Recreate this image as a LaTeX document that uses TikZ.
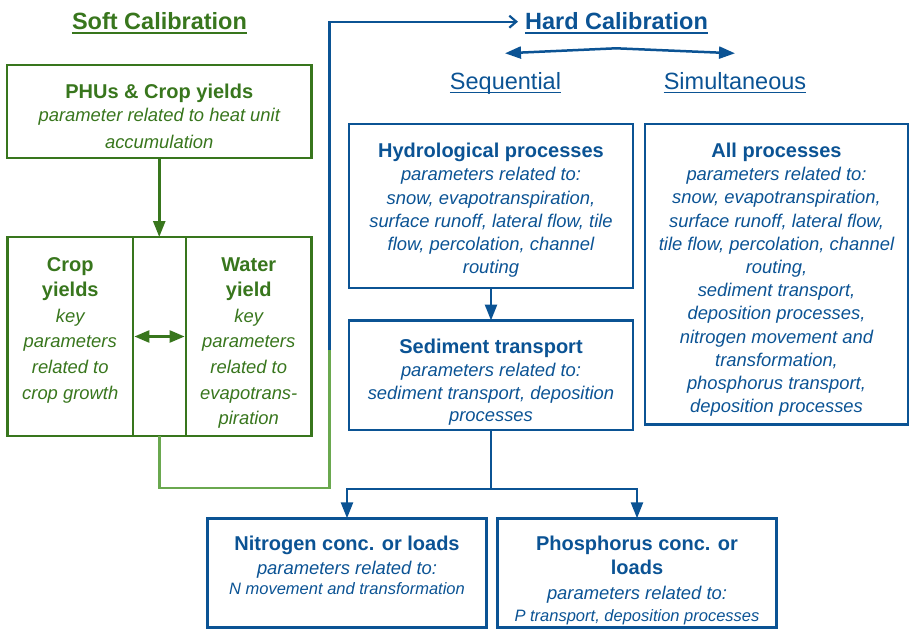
\documentclass[tikz,border=0pt]{standalone}
\usepackage{fontspec}
\setmainfont{Liberation Sans}
\usetikzlibrary{arrows.meta}
\definecolor{gdark}{HTML}{38761D}
\definecolor{glight}{HTML}{6AA84F}
\definecolor{bdark}{HTML}{0B5394}
\newcommand\boxtitle[1]{{\fontsize{20pt}{23.3pt}\selectfont\bfseries\upshape\rule{0pt}{15pt}#1}}
\newcommand\smallit[1]{{\fontsize{16.5pt}{20pt}\selectfont #1}}
\tikzset{
  gbox/.style={draw=gdark, line width=2.8pt, inner sep=0pt, outer sep=0pt},
  bbox/.style={draw=bdark, line width=2.5pt, inner sep=0pt, outer sep=0pt},
  gtext/.style={text=gdark, inner sep=0pt, align=center, anchor=north},
  btext/.style={text=bdark, inner sep=0pt, align=center, anchor=north},
  headtxt/.style={inner sep=0pt, anchor=base, font=\fontsize{23.5pt}{28pt}\selectfont\bfseries},
  subtxt/.style={inner sep=0pt, anchor=base, text=bdark, font=\fontsize{23.5pt}{28pt}\selectfont},
  uline/.style={line width=1.6pt},
  gconn/.style={draw=gdark, line width=2.5pt},
  bconn/.style={draw=bdark, line width=2.5pt},
  tri/.style={-{Triangle[length=16pt,width=12pt]}},
  dtri/.style={{Triangle[length=15pt,width=12pt]}-{Triangle[length=15pt,width=12pt]}},
}
\begin{document}
\begin{tikzpicture}[x=1pt,y=-1pt]
\useasboundingbox (0,0) rectangle (912,634);

% ---------- titles ----------
\node[headtxt, text=gdark] (soft) at (159.5,29.3) {Soft Calibration};
\draw[uline, gdark] ([yshift=-3.5pt]soft.base west) -- ([yshift=-3.5pt]soft.base east);
\node[headtxt, text=bdark] (hard) at (616.5,29.3) {Hard Calibration};
\draw[uline, bdark] ([yshift=-3.5pt]hard.base west) -- ([yshift=-3.5pt]hard.base east);
\node[subtxt] (seq) at (505.5,89) {Sequential};
\draw[uline, bdark] ([yshift=-3.5pt]seq.base west) -- ([yshift=-3.5pt]seq.base east);
\node[subtxt] (simul) at (735,89) {Simultaneous};
\draw[uline, bdark] ([yshift=-3.5pt]simul.base west) -- ([yshift=-3.5pt]simul.base east);

% ---------- boxes ----------
\node[gbox, minimum width=304.5pt, minimum height=93pt] (phu) at (159.25,111.5) {};
\node[gbox, minimum width=125.5pt, minimum height=199pt] (crop) at (70.25,336.5) {};
\node[gbox, minimum width=53pt, minimum height=199pt] (mid) at (159.5,336.5) {};
\node[gbox, minimum width=125.5pt, minimum height=199pt] (water) at (248.75,336.5) {};
\node[bbox, minimum width=284pt, minimum height=164pt] (hydro) at (491,206) {};
\node[bbox, minimum width=284pt, minimum height=109.5pt] (sed) at (491,375.25) {};
\node[bbox, minimum width=263pt, minimum height=300.3pt] (all) at (776.5,274.15) {};
\node[bbox, minimum width=279.4pt, minimum height=109.4pt] (nit) at (347,573) {};
\node[bbox, minimum width=279.4pt, minimum height=109.4pt] (phos) at (637,573) {};

% ---------- texts ----------
\node[gtext, font=\fontsize{18.4pt}{23.3pt}\selectfont\itshape] (phuT) at (159.25,83.2)
  {\boxtitle{PHUs \& Crop yields}\\parameter related to heat unit\\[3.4pt]accumulation};
\node[gtext, font=\fontsize{18.4pt}{25.6pt}\selectfont\itshape] (cropT) at (70.25,255.8)
  {\boxtitle{Crop}\\\boxtitle{yields}\\key\\parameters\\related to\\crop growth};
\node[gtext, font=\fontsize{18.4pt}{25.6pt}\selectfont\itshape] (waterT) at (248.75,255.8)
  {\boxtitle{Water}\\\boxtitle{yield}\\key\\parameters\\related to\\evapotrans-\\piration};
\node[btext, font=\fontsize{18.4pt}{23.3pt}\selectfont\itshape] (hydroT) at (491,142.2)
  {\boxtitle{Hydrological processes}\\parameters related to:\\snow, evapotranspiration,\\surface runoff, lateral flow, tile\\flow, percolation, channel\\routing};
\node[btext, font=\fontsize{18.4pt}{23.2pt}\selectfont\itshape] (allT) at (776.5,142.2)
  {\boxtitle{All processes}\\parameters related to:\\snow, evapotranspiration,\\surface runoff, lateral flow,\\tile flow, percolation, channel\\routing,\\sediment transport,\\deposition processes,\\nitrogen movement and\\transformation,\\phosphorus transport,\\deposition processes};
\node[btext, font=\fontsize{18.4pt}{22.8pt}\selectfont\itshape] (sedT) at (491,338.2)
  {\boxtitle{Sediment transport}\\parameters related to:\\sediment transport, deposition\\processes};
\node[btext, font=\fontsize{18.4pt}{23.3pt}\selectfont\itshape] (nitT) at (347,535.5)
  {\boxtitle{Nitrogen conc. or loads}\\parameters related to:\\[-2.7pt]\smallit{N movement and transformation}};
\node[btext, font=\fontsize{18.4pt}{23.3pt}\selectfont\itshape] (phosT) at (637,535.5)
  {\boxtitle{Phosphorus conc. or}\\\boxtitle{loads}\\[2.3pt]parameters related to:\\[-1.6pt]\smallit{P transport, deposition processes}};

% ---------- connectors ----------
\draw[gconn, tri] (phu.south) -- (phu.south |- mid.north);
\draw[gconn, dtri, shorten <=1.4pt, shorten >=1.4pt] (mid.west) -- (mid.east);

\coordinate (gB) at (329.5,488);
\coordinate (gC) at (329.5,350);
\coordinate (gE) at (518,21.7);
\draw[glight, line width=2.2pt] (mid.south) |- (gB) -- (gC);
\draw[bdark, line width=2.2pt, -{Straight Barb[length=7pt,width=12pt]}] (gC) |- (gE);

\coordinate (hv) at (616,48.3);
\coordinate (seqTip) at (505,53.3);
\coordinate (simTip) at (735,53.3);
\draw[bconn, tri] (hv) -- (seqTip);
\draw[bconn, tri] (hv) -- (simTip);

\draw[bconn, tri] (hydro.south) -- (sed.north);
\coordinate (split) at (491,489);
\draw[bconn] (sed.south) -- (split);
\draw[bconn, tri] (split) -| (nit.north);
\draw[bconn, tri] (split) -| (phos.north);
\end{tikzpicture}
\end{document}
